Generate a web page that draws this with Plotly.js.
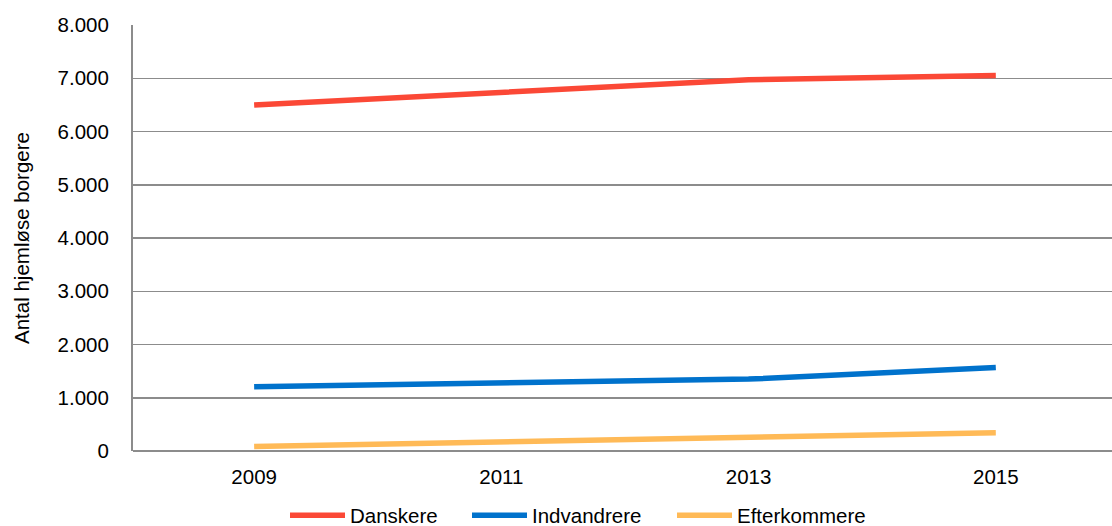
<!DOCTYPE html>
<html>
<head>
<meta charset="utf-8">
<script src="https://cdn.plot.ly/plotly-3.0.1.min.js"></script>
<style>html,body{margin:0;padding:0;background:#fff;}#chart{width:1112px;height:526px;}</style>
</head>
<body>
<div id="chart"></div>
<script>
var years = ["2009", "2011", "2013", "2015"];
var danskere = [6500, 6740, 6970, 7050];
var indvandrere = [1205, 1275, 1350, 1570];
var efterkommere = [85, 170, 255, 345];
var yTickVals = [0, 1000, 2000, 3000, 4000, 5000, 6000, 7000, 8000];
var yTickText = ["0", "1.000", "2.000", "3.000", "4.000", "5.000", "6.000", "7.000", "8.000"];

var FAM = "Liberation Sans, Arial, sans-serif";
var font = {family: FAM, size: 20, color: "#000"};
function tr(name, y, color, lg) {
  return {type: "scatter", mode: "lines", name: name, x: years, y: y, legend: lg,
    line: {color: color, width: 5.5}, hoverinfo: "x+y"};
}
var data = [
  tr("Danskere", danskere, "#FB4836", "legend"),
  tr("Indvandrere", indvandrere, "#0072CC", "legend2"),
  tr("Efterkommere", efterkommere, "#FFBA57", "legend3")
];
function lg(px) {
  return {orientation: "h", xref: "container", yref: "container", x: px / 1112, xanchor: "left",
    y: 0.02, yanchor: "middle", borderwidth: 0,
    font: {family: FAM, size: 20.5, color: "#000"}, itemwidth: 55};
}
var layout = {
  width: 1112, height: 526,
  margin: {l: 133, r: 0, t: 25, b: 75},
  paper_bgcolor: "#fff", plot_bgcolor: "#fff",
  font: font,
  showlegend: true,
  legend: lg(285), legend2: lg(467), legend3: lg(672),
  xaxis: {type: "category", range: [-0.49, 3.47], showgrid: false, zeroline: false,
    showline: false, ticks: "", tickfont: {family: FAM, size: 20.5, color: "#000"}, ticklabelstandoff: 11, fixedrange: true},
  yaxis: {range: [0, 8000], tickvals: yTickVals, ticktext: yTickText, showgrid: true,
    gridcolor: "#8c8c8c", gridwidth: 1.5, zeroline: true, zerolinecolor: "#8c8c8c", zerolinewidth: 2,
    showline: true, linecolor: "#8c8c8c", linewidth: 2, ticks: "", ticklabelstandoff: 18,
    tickfont: {family: FAM, size: 20.5, color: "#000"},
    title: {text: "Antal hjemløse borgere", font: {family: FAM, size: 20.5, color: "#000"}, standoff: 22}}
};
Plotly.newPlot("chart", data, layout, {displayModeBar: false, staticPlot: true}).then(function (gd) {
  var paths = gd.querySelectorAll(".legendlines path");
  paths.forEach(function (p) { p.setAttribute("d", "M5,0h55"); });
});
</script>
</body>
</html>
